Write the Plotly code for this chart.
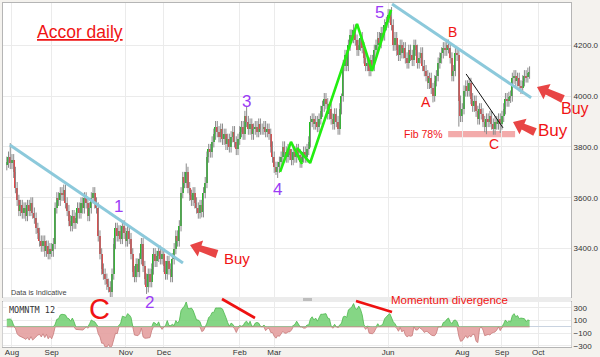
import plotly.graph_objects as go
import numpy as np

# ---------------- data ----------------
# trading-day index: day 0 = first trading day of Aug 2016; first close is day -15
FIRST_DAY = -15
closes = [
    # warm-up before the visible window (d -15 .. -4)
    3620, 3640, 3610, 3650, 3680, 3660, 3700, 3690, 3720, 3710, 3740, 3730,
    # d -3 .. 24
    3740, 3760, 3735, 3750, 3700, 3640, 3590, 3550, 3570, 3540, 3560, 3530, 3570, 3550,
    3580, 3540, 3520, 3480, 3460, 3430, 3410, 3430, 3390, 3410, 3380, 3400, 3390, 3420,
    # d 25 .. 49
    3560, 3600, 3590, 3620, 3610, 3630, 3580, 3550, 3510, 3490, 3530, 3500, 3520, 3560,
    3540, 3580, 3560, 3600, 3580, 3530, 3560, 3600, 3620, 3580, 3560,
    # d 50 .. 65
    3450, 3380, 3320, 3300, 3280, 3260, 3250, 3230, 3300, 3420, 3480, 3450, 3470, 3440,
    3490, 3460,
    # d 66 .. 97
    3430, 3470, 3440, 3380, 3310, 3290, 3340, 3310, 3360, 3420, 3330, 3280, 3250, 3300,
    3270, 3320, 3380, 3350, 3370, 3390, 3360, 3380, 3330, 3300, 3350, 3320, 3290, 3360,
    3400, 3450, 3430, 3490,
    # d 98 .. 131
    3620, 3680, 3660, 3700, 3640, 3610, 3590, 3620, 3580, 3560, 3540, 3570, 3545, 3620,
    3660, 3760, 3790, 3780, 3820, 3850, 3880, 3860, 3840, 3870, 3830, 3850, 3810, 3830,
    3800, 3840, 3860, 3820, 3790, 3830,
    # d 132 .. 172
    3860, 3880, 3850, 3920, 3900, 3870, 3890, 3850, 3870, 3880, 3860, 3890, 3870, 3870,
    3880, 3860, 3870, 3850, 3800, 3760, 3720, 3700, 3720, 3740, 3760, 3800, 3780, 3760,
    3790, 3770, 3750, 3780, 3760, 3790, 3770, 3740, 3760, 3780, 3760, 3790, 3820,
    # d 173 .. 217
    3900, 3910, 3890, 3900, 3880, 3910, 3940, 3960, 3990, 3970, 3930, 3950, 3910, 3890,
    3930, 3900, 3870, 3950, 4000, 4120, 4160, 4120, 4200, 4240, 4230, 4260, 4220, 4180,
    4200, 4230, 4190, 4150, 4120, 4130, 4100, 4140, 4120, 4180, 4200, 4230, 4210, 4250,
    4240, 4280, 4290,
    # d 218 .. 260
    4320, 4310, 4280, 4200, 4230, 4180, 4160, 4200, 4170, 4190, 4150, 4130, 4180, 4160,
    4140, 4200, 4180, 4130, 4150, 4170, 4120, 4100, 4080, 4050, 4070, 4030, 4000, 4060,
    4080, 4130, 4150, 4170, 4190, 4180, 4200, 4190, 4150, 4080, 4100, 4170, 4160, 3980,
    3920,
    # d 261 .. 300
    3950, 4020, 4040, 4020, 4050, 3990, 3960, 3980, 3940, 3910, 3950, 3930, 3900, 3880,
    3910, 3900, 3920, 3890, 3870, 3900, 3890, 3910, 3890, 3920, 3950, 3990, 3980, 3995,
    4000, 4070, 4080, 4060, 4070, 4040, 4030, 4060, 4080, 4075, 4090, 4095,
]
# notable wick extremes seen on the chart (day -> price)
spike_highs = {-1: 3815, 101: 3735, 136: 3960, 191: 4010, 220: 4350, 252: 4225}
spike_lows = {57: 3210, 78: 3222, 153: 3690, 244: 3975, 259: 3880, 275: 3850, 283: 3855}

month_ticks = [0, 23, 66, 88, 132, 152, 218, 261, 284, 305]
month_labels = ["Aug", "Sep", "Nov", "Dec", "Feb", "Mar", "Jun", "Aug", "Sep", "Oct"]
price_ticks = [3400, 3600, 3800, 4000, 4200]
mom_ticks = [-300, -100, 100, 300]
MOM_PERIOD = 12
VISIBLE_FROM = -3

# analyst drawings (day, price)
trend1 = [(-1.2, 3808), (99.1, 3344)]
trend2 = [(220.3, 4362), (300.9, 3993)]
wedge = [(263.2, 4087), (284.6, 3875)]
wave_x = [155.4, 161.7, 168.1, None, 165.2, 172.8, 200.0, 208.7, 219.7]
wave_y = [3702, 3820, 3733, None, 3796, 3737, 4284, 4099, 4339]
fib_zone = (252.8, 291.6, 3838, 3863)

# ---------------- derived ----------------
WICK = 22
c = np.array(closes, dtype=float)
days = np.arange(FIRST_DAY, FIRST_DAY + len(c))
o = np.r_[c[0], c[:-1]]
hi = np.maximum(o, c) + WICK
lo = np.minimum(o, c) - WICK
for d, v in spike_highs.items():
    hi[days == d] = v
for d, v in spike_lows.items():
    lo[days == d] = v

vis = days >= VISIBLE_FROM
dv, ov, cv, hv, lv = days[vis], o[vis], c[vis], hi[vis], lo[vis]

mom = c[MOM_PERIOD:] - c[:-MOM_PERIOD]
mdays = days[MOM_PERIOD:]
mk = mdays >= VISIBLE_FROM
mdays, mom = mdays[mk], mom[mk]

GREEN = "#1fbf1f"
RED = "#ee4040"
PURPLE = "#9b3cf5"
TXTRED = "#f01414"
BLUE = "#8cc9db"

fig = go.Figure()

wx, wy = [], []
for d, l, h in zip(dv, lv, hv):
    wx += [int(d), int(d), None]
    wy += [float(l), float(h), None]
fig.add_trace(go.Scatter(x=wx, y=wy, mode="lines", line=dict(color="#8a8a8a", width=1),
                         hoverinfo="skip", xaxis="x", yaxis="y"))
fig.add_trace(go.Bar(x=dv, y=np.abs(cv - ov), base=np.minimum(ov, cv), width=0.8,
                     marker=dict(color=[GREEN if cc >= oo else RED for oo, cc in zip(ov, cv)],
                                 line=dict(width=0)),
                     hoverinfo="skip", xaxis="x", yaxis="y"))
fig.add_trace(go.Scatter(x=wave_x, y=wave_y, mode="lines", line=dict(color="#22ee11", width=2.6),
                         hoverinfo="skip", xaxis="x", yaxis="y"))

fig.add_trace(go.Scatter(x=mdays, y=np.maximum(mom, 0), mode="lines", fill="tozeroy",
                         fillcolor="rgba(120,210,120,0.9)", line=dict(color="#4cb84c", width=0.8),
                         hoverinfo="skip", xaxis="x2", yaxis="y2"))
fig.add_trace(go.Scatter(x=mdays, y=np.minimum(mom, 0), mode="lines", fill="tozeroy",
                         fillcolor="rgba(228,160,160,0.9)", line=dict(color="#c77a7a", width=0.8),
                         hoverinfo="skip", xaxis="x2", yaxis="y2"))

PLOT_L, PLOT_R, PLOT_T, PLOT_B = 3, 571, 3, 347


def P(xp, yp):
    return (xp - PLOT_L) / (PLOT_R - PLOT_L), (PLOT_B - yp) / (PLOT_B - PLOT_T)


main_bottom = P(0, 297)[1]
mom_top = P(0, 302)[1]

shapes = []
# separator band + scroll handle
shapes.append(dict(type="rect", xref="paper", yref="paper", x0=0, x1=1, y0=mom_top, y1=main_bottom,
                   fillcolor="#ececec", line=dict(width=0), layer="above"))
hx0, hy0 = P(303, 301)
hx1, hy1 = P(312, 298)
shapes.append(dict(type="rect", xref="paper", yref="paper", x0=hx0, x1=hx1, y0=hy0, y1=hy1,
                   fillcolor="#bdbdbd", line=dict(width=0), layer="above"))
# fib zone
shapes.append(dict(type="rect", xref="x", yref="y", x0=fib_zone[0], x1=fib_zone[1],
                   y0=fib_zone[2], y1=fib_zone[3], fillcolor="rgba(240,150,150,0.8)",
                   line=dict(width=0), layer="below"))
for (a, b), col, w in [(trend1, BLUE, 3), (trend2, BLUE, 3), (wedge, "#111111", 1)]:
    shapes.append(dict(type="line", xref="x", yref="y", x0=a[0], y0=a[1], x1=b[0], y1=b[1],
                       line=dict(color=col, width=w)))
# momentum divergence strokes
for (xa, ya), (xb, yb) in [((222, 299), (255, 318)), ((356, 301), (392, 312))]:
    x0, y0 = P(xa, ya)
    x1, y1 = P(xb, yb)
    shapes.append(dict(type="line", xref="paper", yref="paper", x0=x0, y0=y0, x1=x1, y1=y1,
                       line=dict(color="#ee1111", width=2.6)))


# fat "Buy" arrows (tip, tail) in pixel space
def arrow_path(tip, tail, shaft=3.2, head=8.5, head_len=11):
    tx, ty = tip
    sx, sy = tail
    L = np.hypot(sx - tx, sy - ty)
    ux, uy = (sx - tx) / L, (sy - ty) / L
    nx, ny = -uy, ux
    bx, by = tx + ux * head_len, ty + uy * head_len
    pts = [(tx, ty), (bx + nx * head, by + ny * head), (bx + nx * shaft, by + ny * shaft),
           (sx + nx * shaft * 1.3, sy + ny * shaft * 1.3), (sx - nx * shaft * 1.3, sy - ny * shaft * 1.3),
           (bx - nx * shaft, by - ny * shaft), (bx - nx * head, by - ny * head)]
    pp = [P(x, y) for x, y in pts]
    return "M " + " L ".join(f"{x:.5f},{y:.5f}" for x, y in pp) + " Z"


for tip, tail in [((190, 245), (217, 254)), ((513, 122), (535, 132)), ((537, 87), (563, 99))]:
    shapes.append(dict(type="path", xref="paper", yref="paper", path=arrow_path(tip, tail),
                       fillcolor="#e84545", line=dict(width=0), layer="above"))

FONT = "Liberation Sans, Arial, sans-serif"
ann = []


def txt(text, xp, yp, size, color, xanchor="center", family=FONT, **kw):
    x, y = P(xp, yp)
    ann.append(dict(text=text, x=x, y=y, xref="paper", yref="paper", showarrow=False,
                    xanchor=xanchor, yanchor="middle", font=dict(size=size, color=color, family=family), **kw))


txt("<u>Accor daily</u>", 80, 32, 17.5, TXTRED)
for t, xp, yp in [("1", 118, 207), ("2", 149, 302), ("3", 246, 102), ("4", 277, 189), ("5", 379, 12)]:
    txt(t, xp, yp, 17, PURPLE)
txt("C", 99, 309, 29, TXTRED)
txt("A", 426, 102, 14, TXTRED)
txt("B", 452, 32, 14, TXTRED)
txt("C", 494, 144, 14, TXTRED)
txt("Fib 78%", 423, 134, 10.5, TXTRED)
txt("Momentum divergence", 449, 300, 11.5, TXTRED)
txt("Buy", 237, 258, 15, TXTRED)
txt("Buy", 553, 130, 17, TXTRED)
txt("Buy", 575, 108, 16, TXTRED)
txt("Data is Indicative", 9, 292, 7.3, "#444444", xanchor="left")
txt("MOMNTM 12", 6, 310, 8.5, "#333333", xanchor="left", family="DejaVu Sans Mono, monospace",
    bgcolor="#ffffff", borderpad=2)

axis_common = dict(gridcolor="#ebebeb", showline=True, linecolor="#b5b5b5", mirror=True,
                   ticks="", zeroline=False)
fig.update_layout(
    width=600, height=357,
    margin=dict(l=PLOT_L, r=600 - PLOT_R, t=PLOT_T, b=357 - PLOT_B),
    paper_bgcolor="#f4f2ee", plot_bgcolor="#ffffff",
    showlegend=False, hovermode=False, bargap=0,
    xaxis=dict(domain=[0, 1], range=[-5.2, 324], tickvals=month_ticks, showticklabels=False,
               anchor="y", **axis_common),
    yaxis=dict(domain=[main_bottom, 1], range=[3210, 4366], side="right", tickvals=price_ticks,
               tickformat=".1f", tickfont=dict(size=8, color="#333333", family=FONT),
               anchor="x", automargin=False, **axis_common),
    xaxis2=dict(domain=[0, 1], range=[-5.2, 324], tickvals=month_ticks, ticktext=month_labels,
                tickfont=dict(size=8, color="#333333", family=FONT), anchor="y2",
                matches="x", automargin=False, ticklabelstandoff=-3, **axis_common),
    yaxis2=dict(domain=[0, mom_top], range=[-320, 395], side="right", tickvals=mom_ticks,
                tickfont=dict(size=8, color="#333333", family=FONT), anchor="x2",
                automargin=False, gridcolor="#ebebeb", showline=True, linecolor="#d0d0d0",
                mirror=True, ticks="", zeroline=True, zerolinecolor="#c9d3e0", zerolinewidth=1),
    shapes=shapes, annotations=ann,
)
fig.write_html("out.html", config={"displayModeBar": False},
               post_script="document.body.style.margin='0px';document.body.style.padding='0px';"
                           "document.documentElement.style.overflow='hidden';")
